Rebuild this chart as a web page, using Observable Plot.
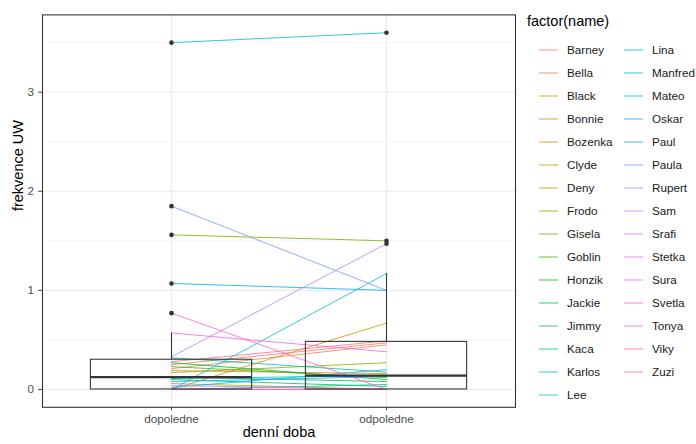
<!DOCTYPE html>
<html><head><meta charset="utf-8">
<script src="https://cdn.jsdelivr.net/npm/d3@7"></script>
<script src="https://cdn.jsdelivr.net/npm/@observablehq/plot@0.6"></script>
<style>
body{margin:0;background:#fff;font-family:"Liberation Sans",Arial,sans-serif;}
#wrap{position:relative;width:696px;height:444px;overflow:hidden;}
#wrap svg{display:block;}
#legend{position:absolute;left:0;top:0;}
</style></head><body><div id="wrap"></div>
<script>
// ---- data ----
const names = ["Barney","Bella","Black","Bonnie","Bozenka","Clyde","Deny","Frodo","Gisela","Goblin","Honzik","Jackie","Jimmy","Kaca","Karlos","Lee","Lina","Manfred","Mateo","Oskar","Paul","Paula","Rupert","Sam","Srafi","Stetka","Sura","Svetla","Tonya","Viky","Zuzi"];
const times = ["dopoledne","odpoledne"];
const dopoledne = [0.25,0.21,0.19,0,0,0,0.06,0.17,1.56,0.23,0.27,0.125,0.10,0,0.32,0.11,3.5,0,0.02,1.07,0.08,1.85,0.33,0.04,0,0,0.57,0.77,0,0,0.28];
const odpoledne = [0.47,0.45,0.16,0,0.67,0,0,0.27,1.50,0.12,0.10,0.08,0.03,0.05,0.175,0.14,3.6,1.17,0.20,1.0,0.13,1.0,1.47,0,0,0,0.38,0,0,0,0.49];
const yTicks = [0,1,2,3];
const yMinor = [0.5,1.5,2.5,3.5];
const xTitle = "denní doba";
const yTitle = "frekvence UW";
const legendTitle = "factor(name)";

// ggplot-style hue palette (polarLUV -> sRGB)
function hcl2hex(h, c, l) {
  const hr = h * Math.PI / 180;
  const U = c * Math.cos(hr), V = c * Math.sin(hr);
  const Xn = 95.047, Yn = 100, Zn = 108.883;
  const den = Xn + 15 * Yn + 3 * Zn, un = 4 * Xn / den, vn = 9 * Yn / den;
  const Y = l > 8 ? Yn * Math.pow((l + 16) / 116, 3) : Yn * l / 903.3;
  const u = U / (13 * l) + un, v = V / (13 * l) + vn;
  const X = Y * 9 * u / (4 * v);
  const Z = Y * (12 - 3 * u - 20 * v) / (4 * v);
  const x = X / 100, y = Y / 100, z = Z / 100;
  const r = 3.240479 * x - 1.537150 * y - 0.498535 * z;
  const g = -0.969256 * x + 1.875992 * y + 0.041556 * z;
  const b = 0.055648 * x - 0.204043 * y + 1.057311 * z;
  const gam = t => { t = t <= 0.0031308 ? 12.92 * t : 1.055 * Math.pow(t, 1 / 2.4) - 0.055; return Math.round(255 * Math.max(0, Math.min(1, t))); };
  return d3.rgb(gam(r), gam(g), gam(b)).formatHex();
}
const colors = names.map((_, i) => hcl2hex(15 + 360 * i / names.length, 100, 65));
const lineOpacity = 0.8;

const data = names.flatMap((name, i) => [
  {name, time: times[0], value: dopoledne[i]},
  {name, time: times[1], value: odpoledne[i]}
]);

// boxplot helpers (R type-7 quantiles, 1.5 IQR)
const fences = v => { const q1 = d3.quantile(v, 0.25), q3 = d3.quantile(v, 0.75), r = 1.5 * (q3 - q1); return [q1 - r, q3 + r]; };
const whiskerLo = v => { const [lo] = fences(v); return d3.min(v, d => d >= lo ? d : NaN); };
const whiskerHi = v => { const [, hi] = fences(v); return d3.max(v, d => d <= hi ? d : NaN); };
const outliers = v => { const [lo, hi] = fences(v); return v.map(d => (d < lo || d > hi) ? d : NaN); };

const ext = d3.extent(data, d => d.value);
const pad = (ext[1] - ext[0]) * 0.05;

const boxStroke = "#333333";
const chart = Plot.plot({
  width: 520, height: 444,
  marginLeft: 42, marginRight: 5, marginTop: 14.4, marginBottom: 37.2,
  x: {domain: times, type: "band", paddingInner: 0.25, paddingOuter: 0.225, round: false, label: null, tickSize: 3.6, tickPadding: 4},
  y: {domain: [ext[0] - pad, ext[1] + pad], ticks: yTicks, tickFormat: d3.format("d"), label: null, tickSize: 4, tickPadding: 4.5},
  color: {domain: names, range: colors},
  style: {fontFamily: "'Liberation Sans', Arial, sans-serif", fontSize: "11.7px", color: "#4D4D4D", background: "white", overflow: "visible"},
  marks: [
    Plot.ruleY(yMinor, {stroke: "#EBEBEB", strokeWidth: 0.55}),
    Plot.ruleY(yTicks, {stroke: "#EBEBEB", strokeWidth: 1.1}),
    Plot.ruleX(times, {stroke: "#EBEBEB", strokeWidth: 1.1}),
    Plot.line(data, {x: "time", y: "value", z: "name", stroke: "name", strokeWidth: 1, strokeOpacity: lineOpacity}),
    Plot.barY(data, Plot.groupX({y1: "p25", y2: "p75"}, {x: "time", y: "value", fill: "none", stroke: boxStroke, strokeWidth: 1.07})),
    Plot.ruleX(data, Plot.groupX({y1: whiskerLo, y2: "p25"}, {x: "time", y: "value", stroke: boxStroke, strokeWidth: 1.07})),
    Plot.ruleX(data, Plot.groupX({y1: "p75", y2: whiskerHi}, {x: "time", y: "value", stroke: boxStroke, strokeWidth: 1.07})),
    Plot.tickY(data, Plot.groupX({y: "p50"}, {x: "time", y: "value", stroke: boxStroke, strokeWidth: 2.2})),
    Plot.dot(data, Plot.map({y: outliers}, {x: "time", y: "value", z: "time", fill: boxStroke, stroke: null, r: 2.3})),
    Plot.frame({stroke: boxStroke, strokeWidth: 1.07}),
    Plot.text([xTitle], {text: d => d, frameAnchor: "bottom", dy: 29.5, fontSize: 14.5, fill: "black"}),
    Plot.text([yTitle], {text: d => d, frameAnchor: "left", dx: -24, rotate: -90, fontSize: 14.5, fill: "black"})
  ]
});
document.getElementById("wrap").appendChild(chart);

// legend (ggplot-style line keys, two columns)
const perCol = Math.ceil(names.length / 2);
const lg = d3.select("#wrap").append("svg").attr("id", "legend")
  .attr("width", 696).attr("height", 444)
  .style("font-family", "'Liberation Sans', Arial, sans-serif");
lg.append("text").attr("x", 527).attr("y", 26).attr("font-size", 14.5).attr("fill", "black").text(legendTitle);
const items = lg.selectAll("g.item").data(names).join("g").attr("class", "item")
  .attr("transform", (d, i) => `translate(${i < perCol ? 539 : 624},${50 + 23 * (i % perCol)})`);
items.append("line").attr("x1", 0).attr("x2", 19).attr("y1", 0).attr("y2", 0)
  .attr("stroke", (d, i) => colors[i]).attr("stroke-opacity", lineOpacity).attr("stroke-width", 1);
items.append("text").attr("x", 28).attr("y", 4.4).attr("font-size", 11.7).attr("fill", "#1a1a1a").text(d => d);
</script></body></html>
